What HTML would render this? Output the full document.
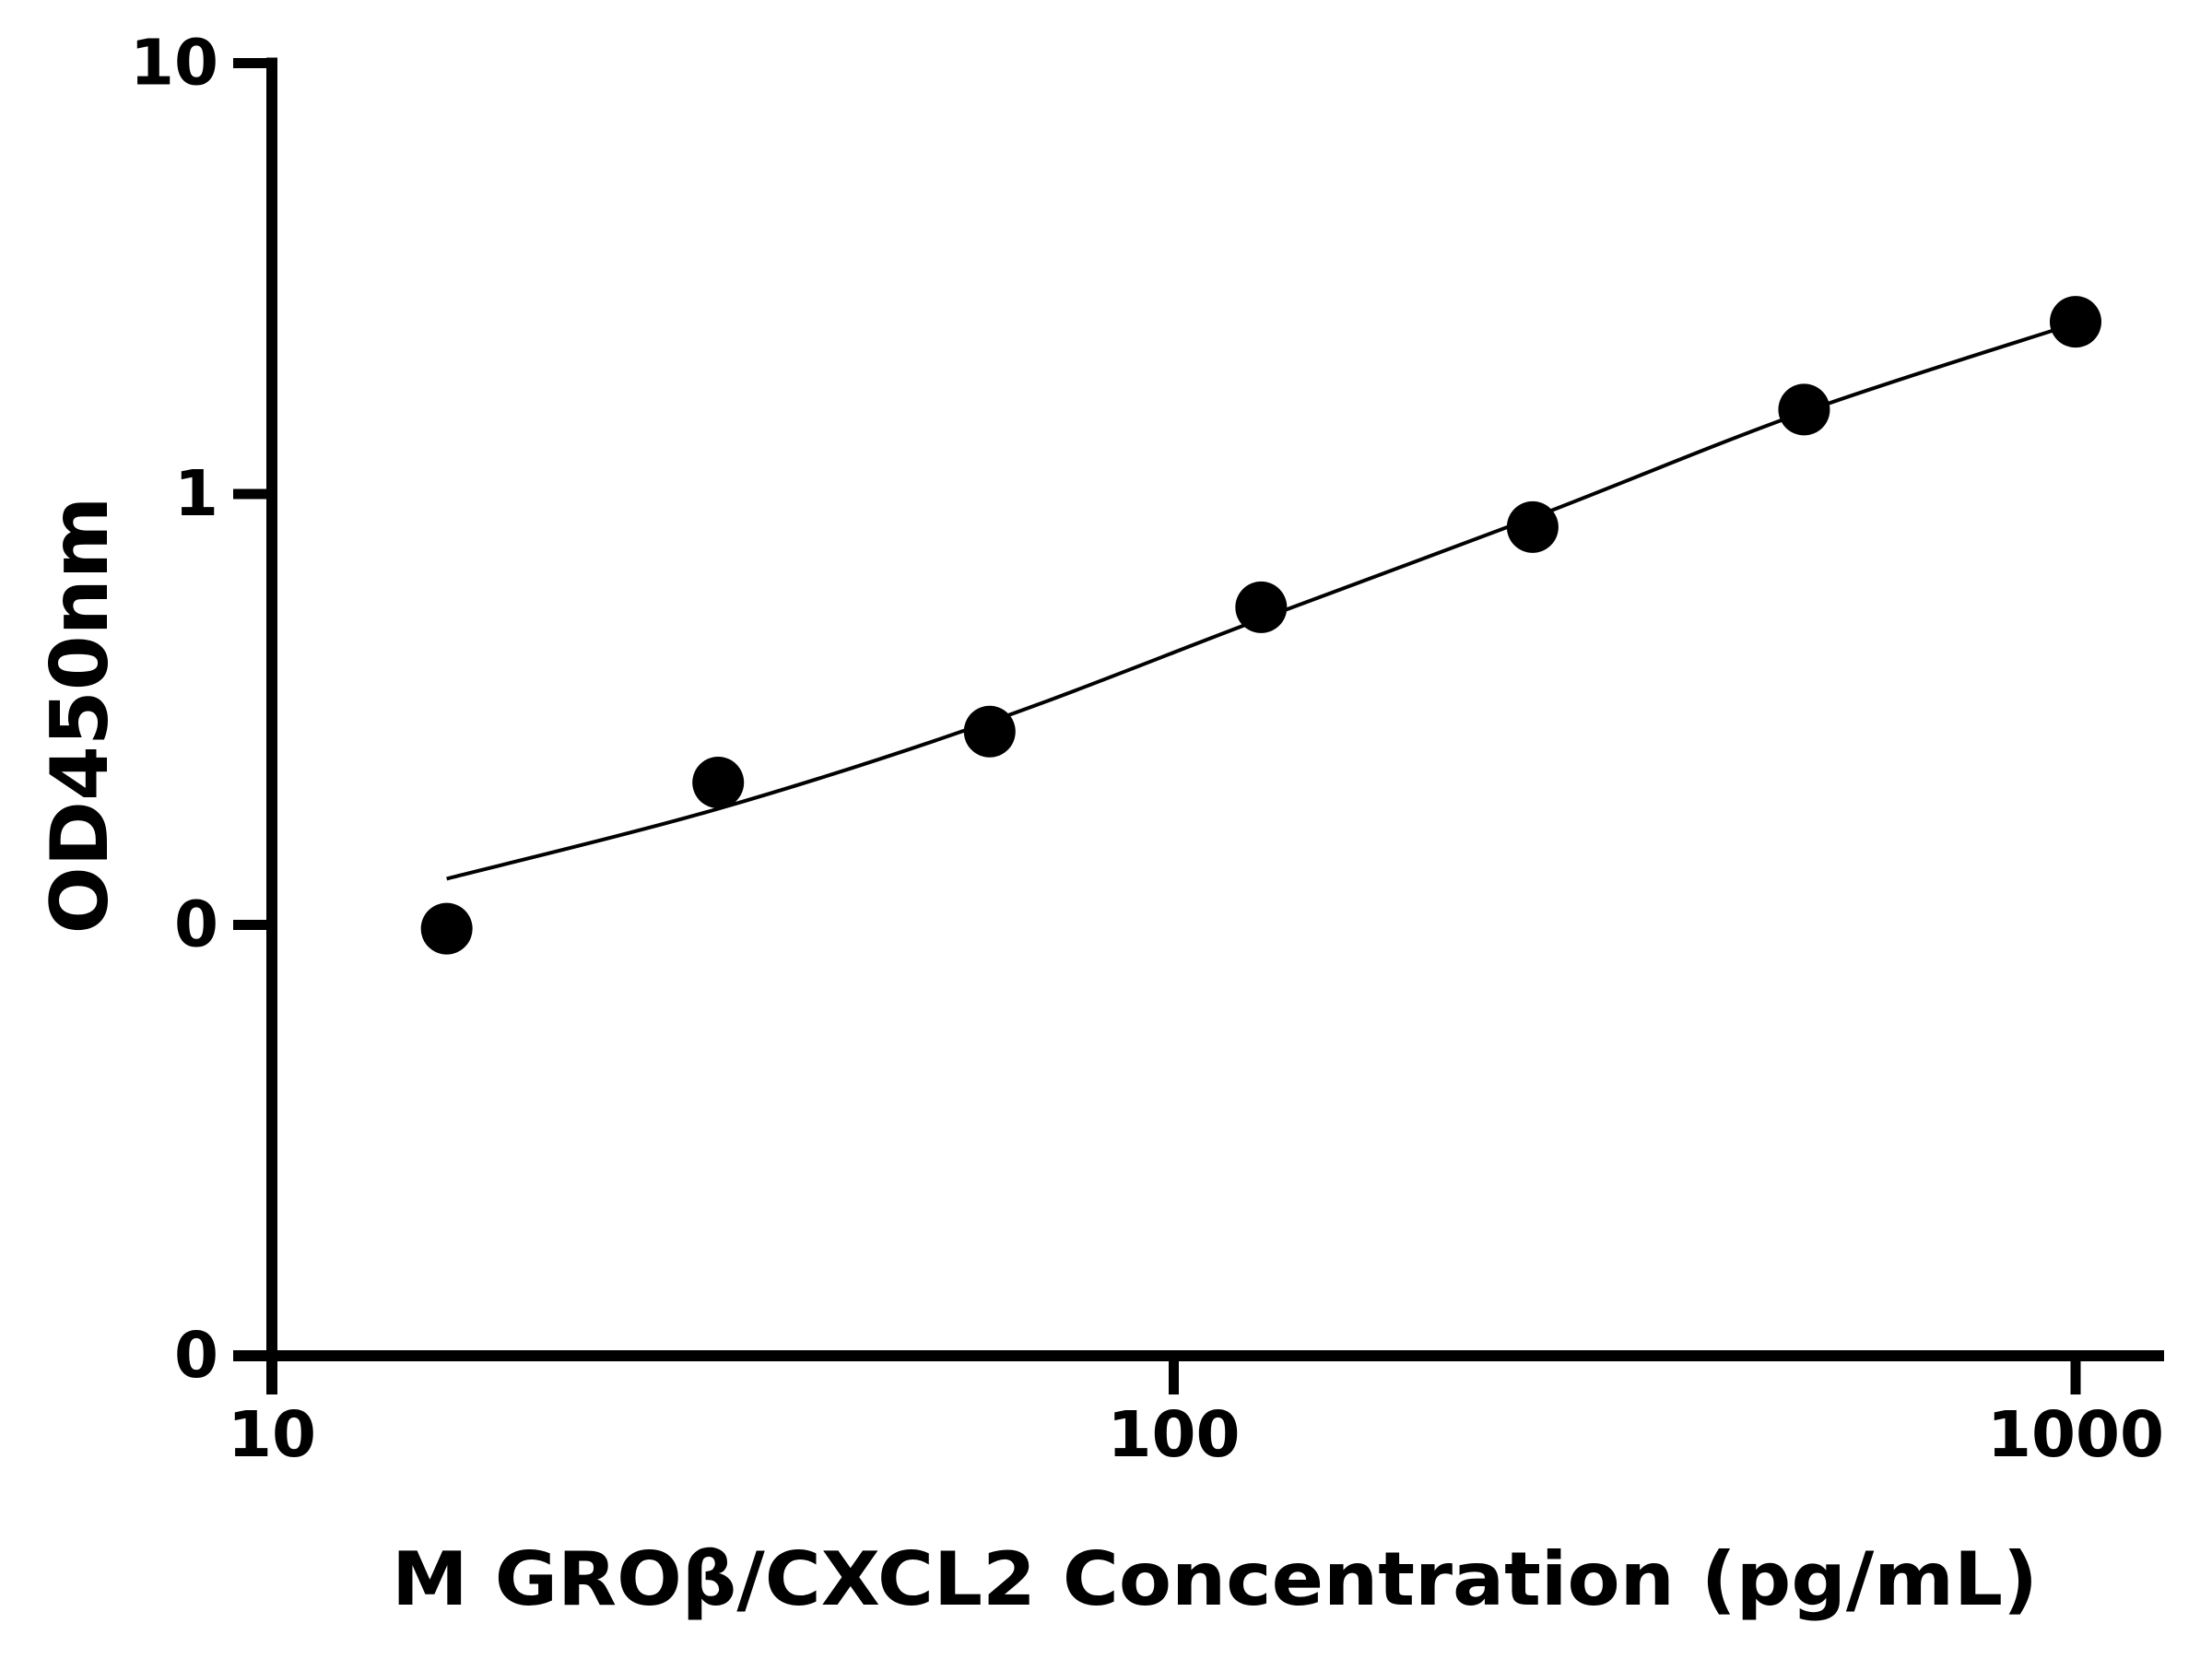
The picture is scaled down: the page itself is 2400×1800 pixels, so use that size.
<!DOCTYPE html>
<html><head><meta charset="utf-8"><style>
html,body{margin:0;padding:0;background:#fff;}
svg{display:block;}
text{font-family:"DejaVu Sans","Liberation Sans",sans-serif;font-weight:bold;fill:#000;}
</style></head><body>
<svg id="chart" width="2400" height="1800" viewBox="0 0 2400 1800">
<g id="axes"></g>
<g id="plot"></g>
<text x="87" y="776" font-size="86" text-anchor="middle" dominant-baseline="central" transform="rotate(-90 87 776)">OD450nm</text>
<text x="1318" y="1741" font-size="80" text-anchor="middle" textLength="1786" lengthAdjust="spacingAndGlyphs">M GROβ/CXCL2 Concentration (pg/mL)</text>
</svg>
<script>
const concentrations = [15.625, 31.25, 62.5, 125, 250, 500, 1000];
const odValues = [0.098, 0.214, 0.281, 0.546, 0.838, 1.57, 2.51];
const fitValues = [0.128, 0.186, 0.296, 0.513, 0.881, 1.55, 2.49];
const xTicks = [10, 100, 1000];
const xTickLabels = ["10", "100", "1000"];
const yTicks = [10, 1, 0.1, 0.01];
const yTickLabels = ["10", "1", "0", "0"];

const NS = "http://www.w3.org/2000/svg";
function xs(v){ return 295 + (Math.log10(v) - 1) * 978.5; }
function ys(v){ return 536 - 467.5 * Math.log10(v); }
function mk(tag, attrs, parent){
  const e = document.createElementNS(NS, tag);
  for (const k in attrs) e.setAttribute(k, attrs[k]);
  parent.appendChild(e); return e;
}
const axes = document.getElementById('axes');
const plot = document.getElementById('plot');

let yAxis = mk('line', {x1:295, y1:ys(10)-6, x2:295, y2:1513, stroke:'#000', 'stroke-width':12}, axes);


let xAxis = mk('line', {x1:253, y1:ys(0.01), x2:2348, y2:ys(0.01), stroke:'#000', 'stroke-width':12}, axes);



yTicks.forEach((t, i) => {
  const y = ys(t);
  const tk = mk('line', {x1:253, y1:y, x2:295, y2:y, stroke:'#000', 'stroke-width':11}, axes);
  
  
  const lb = mk('text', {x:237, y:y, 'font-size':69, 'text-anchor':'end', 'dominant-baseline':'central'}, axes);
  lb.textContent = yTickLabels[i];
  
  
});
xTicks.forEach((t, i) => {
  const x = xs(t);
  const tk = mk('line', {x1:x, y1:ys(0.01), x2:x, y2:1513, stroke:'#000', 'stroke-width':11}, axes);
  
  
  const lb = mk('text', {x:x, y:1580, 'font-size':69, 'text-anchor':'middle'}, axes);
  lb.textContent = xTickLabels[i];
  
  
});

// fitted curve (Catmull-Rom through fit values)
const pts = concentrations.map((c, i) => [xs(c), ys(fitValues[i])]);
let d = 'M' + pts[0][0] + ',' + pts[0][1];
for (let i = 0; i < pts.length - 1; i++) {
  const p0 = pts[Math.max(0, i-1)], p1 = pts[i], p2 = pts[i+1], p3 = pts[Math.min(pts.length-1, i+2)];
  const c1 = [p1[0] + (p2[0]-p0[0])/6, p1[1] + (p2[1]-p0[1])/6];
  const c2 = [p2[0] - (p3[0]-p1[0])/6, p2[1] - (p3[1]-p1[1])/6];
  d += ' C' + c1[0] + ',' + c1[1] + ' ' + c2[0] + ',' + c2[1] + ' ' + p2[0] + ',' + p2[1];
}
const curve = mk('path', {d:d, fill:'none', stroke:'#000', 'stroke-width':4}, plot);



concentrations.forEach((c, i) => {
  const pt = mk('circle', {cx:xs(c), cy:ys(odValues[i]), r:28, fill:'#000'}, plot);
  
  
});
</script>
</body></html>
